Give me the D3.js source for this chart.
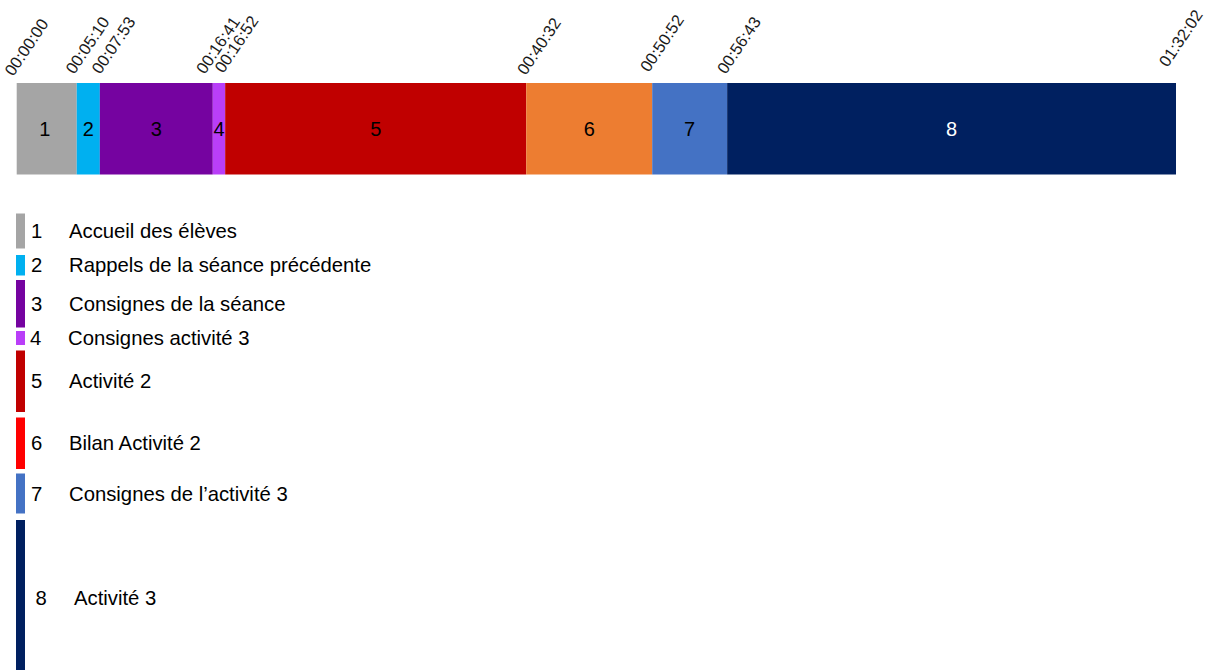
<!DOCTYPE html>
<html>
<head>
<meta charset="utf-8">
<script src="https://cdn.jsdelivr.net/npm/d3@7"></script>
<style>
  html, body { margin: 0; padding: 0; background: #fff; }
  svg { display: block; }
  text { font-family: "Liberation Sans", Arial, sans-serif; }
</style>
</head>
<body>
<svg id="chart" width="1209" height="670"></svg>
<script>
// ---------- DATA ----------
const categories = ["1", "2", "3", "4", "5", "6", "7", "8"];
const activityLabels = [
  "Accueil des élèves",
  "Rappels de la séance précédente",
  "Consignes de la séance",
  "Consignes activité 3",
  "Activité 2",
  "Bilan Activité 2",
  "Consignes de l’activité 3",
  "Activité 3"
];
// segment lengths as drawn in the bar (seconds)
const durations = [286, 110, 538, 59, 1434, 600, 357, 2138];
// boundary tick labels
const tickLabels = ["00:00:00", "00:05:10", "00:07:53", "00:16:41", "00:16:52",
                    "00:40:32", "00:50:52", "00:56:43", "01:32:02"];

// ---------- STYLE / LAYOUT ----------
const barColors    = ["#A5A5A5", "#00B0F0", "#7503A0", "#B93EF8", "#C00000", "#ED7D31", "#4472C4", "#002060"];
const legendColors = ["#A5A5A5", "#00B0F0", "#7503A0", "#B93EF8", "#C00000", "#FF0000", "#4472C4", "#002060"];
const labelColors  = ["#000", "#000", "#000", "#000", "#000", "#000", "#000", "#fff"];
const legendTops    = [213.5, 255, 280, 331, 350.5, 417.5, 473.5, 520];
const legendHeights = [35, 20.5, 47.5, 14, 61.5, 51.5, 40, 156];
const legendNumX  = [31, 31, 31, 30, 31, 31, 31, 35.5];
const legendTextX = [69, 69, 69, 68, 69, 69, 69, 74];
const tickDx = [-4, -3, 0, -8.5, -2.5, -1, -4, -2, -9];
const tickDy = [-6, -8, -8, -8, -9, -7, -10, -8, -15];

const barLeft = 16.7, barRight = 1176, barTop = 83, barBottom = 174.5;

const svg = d3.select("#chart");

// cumulative boundaries
const starts = [0];
durations.forEach((d, i) => starts.push(starts[i] + d));
const total = starts[starts.length - 1];

const x = d3.scaleLinear().domain([0, total]).range([barLeft, barRight]);

const segs = durations.map((d, i) => ({ id: categories[i], start: starts[i], end: starts[i + 1], i }));

// bar segments
svg.append("g").selectAll("rect").data(segs).join("rect")
  .attr("x", d => x(d.start))
  .attr("y", barTop)
  .attr("width", d => x(d.end) - x(d.start))
  .attr("height", barBottom - barTop)
  .attr("fill", d => barColors[d.i]);

// segment labels
svg.append("g").selectAll("text").data(segs).join("text")
  .attr("x", d => (x(d.start) + x(d.end)) / 2 - (d.i === 0 ? 2 : 0))
  .attr("y", (barTop + barBottom) / 2 + 7)
  .attr("text-anchor", "middle")
  .attr("font-size", 20)
  .attr("fill", d => labelColors[d.i])
  .text(d => d.id);

// boundary tick labels (rotated)
const tickAxis = d3.axisTop(x).tickValues(starts).tickSize(0).tickFormat((d, i) => tickLabels[i]);
const axisG = svg.append("g").attr("transform", `translate(0,${barTop})`).call(tickAxis);
axisG.select(".domain").remove();
axisG.selectAll(".tick text")
  .attr("x", 0).attr("y", 0).attr("dy", 0)
  .attr("text-anchor", "start")
  .attr("font-size", 16.5)
  .attr("font-family", "'Liberation Sans', Arial, sans-serif")
  .attr("fill", "#1a1a1a")
  .attr("transform", (d, i) => `translate(${tickDx[i]},${tickDy[i]}) rotate(-56)`);

// legend
const leg = svg.append("g").selectAll("g").data(categories).join("g");
leg.append("rect")
  .attr("x", 16)
  .attr("y", (d, i) => legendTops[i])
  .attr("width", 9)
  .attr("height", (d, i) => legendHeights[i])
  .attr("fill", (d, i) => legendColors[i]);
leg.append("text")
  .attr("x", (d, i) => legendNumX[i])
  .attr("y", (d, i) => legendTops[i] + legendHeights[i] / 2 + 7)
  .attr("font-size", 20.3)
  .attr("fill", "#000")
  .text(d => d);
leg.append("text")
  .attr("x", (d, i) => legendTextX[i])
  .attr("y", (d, i) => legendTops[i] + legendHeights[i] / 2 + 7)
  .attr("font-size", 20.3)
  .attr("fill", "#000")
  .text((d, i) => activityLabels[i]);
</script>
</body>
</html>
